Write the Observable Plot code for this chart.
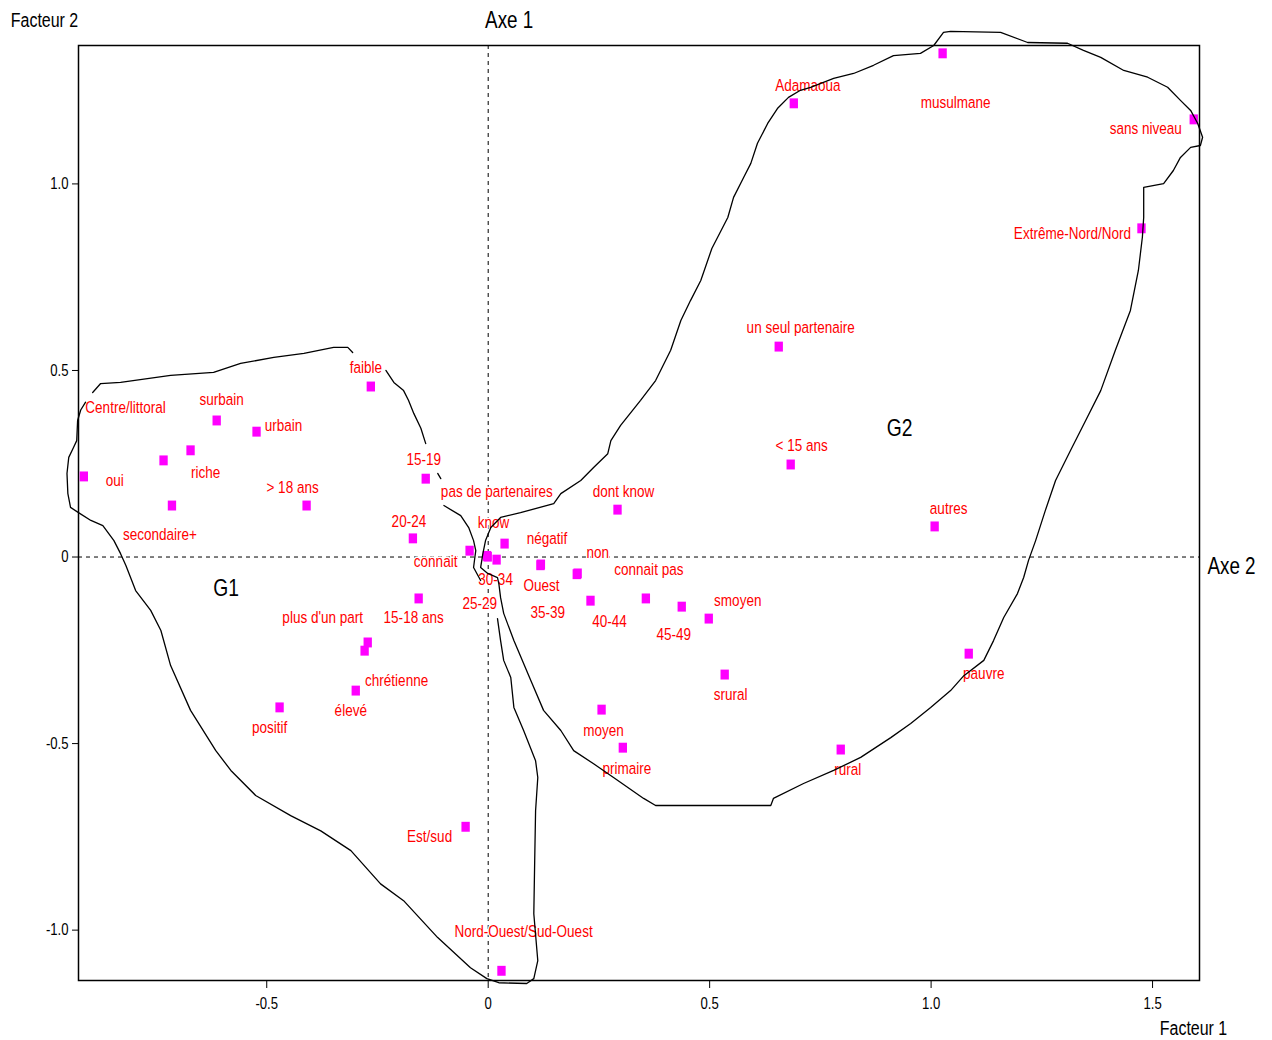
<!DOCTYPE html>
<html><head><meta charset="utf-8">
<script src="https://cdn.jsdelivr.net/npm/d3@7"></script>
<script src="https://cdn.jsdelivr.net/npm/@observablehq/plot@0.6"></script>
<style>html,body{margin:0;padding:0;background:#fff}svg{display:block}</style>
</head><body><div id="chart"></div>
<script>
// ---- data ----
const categories = ["Adamaoua","musulmane","sans niveau","Extrême-Nord/Nord","un seul partenaire","< 15 ans","autres","dont know","pauvre","rural","srural","smoyen","45-49","connait pas","40-44","non","négatif","Ouest","35-39","30-34","25-29","know","pas de partenaires","connait","15-19","20-24","15-18 ans","faible","surbain","urbain","riche","Centre/littoral","oui","secondaire+","> 18 ans","plus d'un part","chrétienne","élevé","positif","Est/sud","Nord-Ouest/Sud-Ouest","moyen","primaire"];
const factor1 = [0.690,1.026,1.593,1.475,0.656,0.683,1.008,0.292,1.085,0.796,0.534,0.498,0.437,0.356,0.231,0.202,0.119,0.118,0.200,0.019,-0.001,0.037,-0.003,-0.042,-0.141,-0.170,-0.157,-0.265,-0.613,-0.523,-0.672,-0.733,-0.913,-0.714,-0.410,-0.272,-0.279,-0.299,-0.471,-0.051,0.030,0.256,0.304];
const factor2 = [1.216,1.350,1.173,0.881,0.564,0.248,0.082,0.127,-0.259,-0.516,-0.315,-0.165,-0.133,-0.111,-0.117,-0.044,-0.020,-0.022,-0.046,-0.007,0.001,0.036,0.003,0.017,0.210,0.050,-0.111,0.457,0.366,0.336,0.286,0.259,0.216,0.138,0.138,-0.229,-0.251,-0.358,-0.403,-0.723,-1.109,-0.409,-0.511];
const xTicks = [-0.5, 0, 0.5, 1.0, 1.5];
const yTicks = [-1.0, -0.5, 0, 0.5, 1.0];
const axisOrigin = [0];
const groupNames = ["G1", "G2"];
const groupF1 = [-0.592, 0.929];
const groupF2 = [-0.084, 0.344];

// hand-drawn group outlines (factor coordinates), one list per stroke
const g1Outline = [
  [[-0.893,0.441],[-0.875,0.465],[-0.830,0.468],[-0.717,0.487],[-0.620,0.495],[-0.559,0.519],[-0.484,0.535],[-0.416,0.546],[-0.349,0.562],[-0.317,0.562],[-0.306,0.548]],
  [[-0.231,0.500],[-0.213,0.468],[-0.191,0.446],[-0.180,0.420],[-0.168,0.385],[-0.152,0.345],[-0.141,0.304]],
  [[-0.114,0.224],[-0.107,0.210]],
  [[-0.100,0.138],[-0.062,0.111],[-0.044,0.079],[-0.033,0.044],[-0.028,0.017],[-0.030,0.000],[-0.033,-0.028],[-0.017,-0.063]],
  [[0.021,-0.165],[0.028,-0.224],[0.035,-0.277],[0.051,-0.323],[0.058,-0.403],[0.080,-0.465],[0.107,-0.546],[0.112,-0.591],[0.107,-0.680],[0.105,-0.814],[0.103,-0.956],[0.112,-1.082],[0.103,-1.130],[0.087,-1.143],[0.024,-1.141],[-0.003,-1.130],[-0.040,-1.101],[-0.114,-1.020],[-0.191,-0.921],[-0.243,-0.876],[-0.310,-0.787],[-0.378,-0.734],[-0.446,-0.693],[-0.525,-0.639],[-0.581,-0.572],[-0.615,-0.519],[-0.672,-0.411],[-0.717,-0.291],[-0.739,-0.197],[-0.762,-0.143],[-0.796,-0.090],[-0.818,-0.023],[-0.830,0.009],[-0.845,0.044],[-0.870,0.084],[-0.897,0.098],[-0.925,0.119],[-0.943,0.133],[-0.949,0.170],[-0.951,0.224],[-0.947,0.267],[-0.936,0.294],[-0.929,0.312],[-0.927,0.366],[-0.920,0.394],[-0.909,0.415]]
];
const g2Outline = [
  [[0.644,-0.647],[0.638,-0.666],[0.378,-0.666],[0.351,-0.647],[0.283,-0.591],[0.238,-0.554],[0.193,-0.519],[0.164,-0.465],[0.125,-0.411],[0.096,-0.330],[0.058,-0.224],[0.035,-0.151],[0.028,-0.109],[0.024,-0.071],[0.021,-0.055],[-0.001,-0.044],[-0.017,-0.028],[-0.012,0.009],[-0.006,0.044],[0.006,0.079],[0.028,0.106],[0.073,0.119],[0.148,0.143],[0.164,0.170],[0.209,0.205],[0.238,0.240],[0.270,0.277],[0.277,0.312],[0.299,0.353],[0.344,0.420],[0.378,0.473],[0.412,0.554],[0.435,0.634],[0.457,0.688],[0.480,0.741],[0.505,0.827],[0.541,0.910],[0.554,0.964],[0.577,1.018],[0.593,1.055],[0.608,1.109],[0.631,1.162],[0.653,1.202],[0.678,1.232],[0.705,1.251],[0.728,1.259],[0.780,1.283],[0.825,1.296],[0.870,1.318],[0.915,1.344],[0.976,1.350],[1.006,1.371],[1.028,1.406],[1.044,1.409],[1.157,1.406],[1.218,1.379],[1.308,1.377],[1.344,1.358],[1.383,1.339],[1.435,1.304],[1.489,1.286],[1.534,1.259],[1.563,1.224],[1.586,1.197],[1.602,1.162],[1.613,1.125],[1.608,1.103],[1.586,1.098],[1.563,1.071],[1.547,1.036],[1.525,1.001],[1.480,0.991],[1.480,0.910],[1.477,0.857],[1.468,0.768],[1.450,0.661],[1.416,0.554],[1.383,0.446],[1.349,0.366],[1.315,0.286],[1.281,0.205],[1.258,0.125],[1.236,0.044],[1.220,-0.009],[1.209,-0.055],[1.195,-0.098],[1.164,-0.162],[1.141,-0.224],[1.119,-0.277],[1.074,-0.318],[1.044,-0.358],[0.999,-0.403],[0.954,-0.446],[0.909,-0.484],[0.841,-0.537],[0.780,-0.572],[0.712,-0.607],[0.644,-0.647]]
];

// ---- layout: label offsets in pixels from each point ----
const labelDx = [14,13,-48,-69,22,11,14,6,15,7,6,29,-8,3,19,20,6,1,-29,-1,-8,-11,10,-34,-2,-4,-5,-5,5,27,15,-38,31,-12,-14,-45,32,-5,-10,-36,22,2,4];
const labelDy = [-18,49,9,5,-19,-19,-18,-18,20,20,20,-18,28,-29,21,-21,-26,20,39,20,47,-21,-64,11,-19,-17,19,-19,-21,-6,22,-53,4,29,-18,-25,30,20,20,10,-39,21,21];

const FONT = '"Liberation Sans", Arial, sans-serif';
const NARROW = 0.82; // horizontal squeeze giving the narrow look of the original
const fmt = d => d === 0 ? "0" : d.toFixed(1);

const points = categories.map((c, i) => ({name: c, f1: factor1[i], f2: factor2[i], dx: labelDx[i], dy: labelDy[i]}));
const groups = groupNames.map((g, i) => ({name: g, f1: groupF1[i], f2: groupF2[i]}));
const outlineRows = (segs, tag) => segs.flatMap((s, i) => s.map(([x, y]) => ({x, y, seg: tag + i})));
const outlines = outlineRows(g1Outline, "a").concat(outlineRows(g2Outline, "b"));

const rectSymbol = {draw(ctx, size) { const s = Math.sqrt(size); ctx.rect(-0.42 * s, -0.5 * s, 0.84 * s, s); }};
const note = {textAnchor: "middle", lineAnchor: "middle", fill: "#000", text: d => d};

const chart = Plot.plot({
  width: 1272, height: 1040,
  marginLeft: 78, marginRight: 73, marginTop: 45, marginBottom: 60,
  x: {domain: [-0.925, 1.606]},
  y: {domain: [-1.135, 1.371]},
  style: {fontFamily: FONT, fontSize: "16px", color: "#000", background: "#fff", overflow: "visible"},
  marks: [
    Plot.ruleY(axisOrigin, {stroke: "#000", strokeWidth: 1, strokeDasharray: "4,4"}),
    Plot.ruleX(axisOrigin, {stroke: "#000", strokeWidth: 1, strokeDasharray: "4,4"}),
    Plot.frame({stroke: "#000", strokeWidth: 1.5}),
    Plot.axisX({ticks: xTicks, tickFormat: fmt, tickSize: 8, tickPadding: 9, fontSize: 16, label: null, stroke: "#000"}),
    Plot.axisY({ticks: yTicks, tickFormat: fmt, tickSize: 6, tickPadding: 4, fontSize: 16, label: null, stroke: "#000"}),
    ...points.map(p => Plot.text([p], {x: "f1", y: "f2", text: "name", dx: p.dx, dy: p.dy, fill: "#ff0000", fontSize: 16.5, stroke: "#fff", strokeWidth: 3, paintOrder: "stroke"})),
    Plot.dot(points, {x: "f1", y: "f2", symbol: rectSymbol, r: 5.6, fill: "#ff00ff", stroke: null}),
    Plot.line(outlines, {x: "x", y: "y", z: "seg", stroke: "#000", strokeWidth: 1.3}),
    Plot.text(groups, {x: "f1", y: "f2", text: "name", fontSize: 23.5, fill: "#000"}),
    Plot.text(["Axe 1"], {...note, x: axisOrigin, frameAnchor: "top", dx: 21, dy: -25, fontSize: 23}),
    Plot.text(["Axe 2"], {...note, y: axisOrigin, frameAnchor: "right", dx: 32, dy: 10, fontSize: 23}),
    Plot.text(["Facteur 2"], {...note, frameAnchor: "top-left", dx: -34, dy: -25, fontSize: 19.5}),
    Plot.text(["Facteur 1"], {...note, frameAnchor: "bottom-right", dx: -6, dy: 48, fontSize: 19.5})
  ]
});
document.getElementById("chart").appendChild(chart);

// squeeze every text horizontally around its anchor point
chart.querySelectorAll("text").forEach(t => {
  const b = t.getBBox();
  const a = getComputedStyle(t).textAnchor;
  const px = a === "start" ? b.x : a === "end" ? b.x + b.width : b.x + b.width / 2;
  const prev = t.getAttribute("transform") || "";
  t.setAttribute("transform", `${prev} translate(${px},0) scale(${NARROW},1) translate(${-px},0)`);
});
</script>
</body></html>
